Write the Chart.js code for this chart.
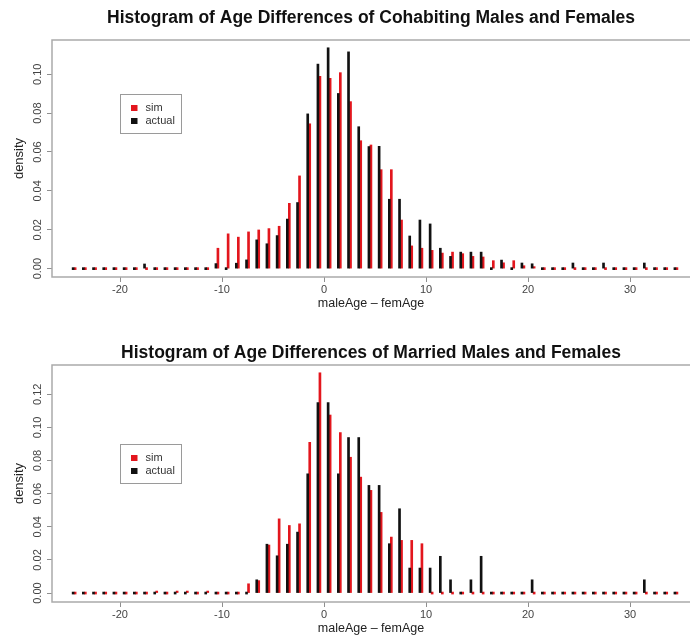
<!DOCTYPE html>
<html>
<head>
<meta charset="utf-8">
<script src="https://cdn.jsdelivr.net/npm/chart.js@4.4.1/dist/chart.umd.min.js"></script>
<style>
  html, body { margin: 0; padding: 0; background: #ffffff; overflow: hidden; width: 690px; height: 636px; }
  #p1 { position: absolute; left: 0; top: 0; }
  #p2 { position: absolute; left: 0; top: 318px; }
</style>
</head>
<body>
<canvas id="p1" width="690" height="318"></canvas>
<canvas id="p2" width="690" height="325"></canvas>
<script>
// ---- data ----
const ageMid = [
  -24.5, -23.5, -22.5, -21.5, -20.5, -19.5, -18.5, -17.5, -16.5, -15.5,
  -14.5, -13.5, -12.5, -11.5, -10.5, -9.5, -8.5, -7.5, -6.5, -5.5,
  -4.5, -3.5, -2.5, -1.5, -0.5, 0.5, 1.5, 2.5, 3.5, 4.5,
  5.5, 6.5, 7.5, 8.5, 9.5, 10.5, 11.5, 12.5, 13.5, 14.5,
  15.5, 16.5, 17.5, 18.5, 19.5, 20.5, 21.5, 22.5, 23.5, 24.5,
  25.5, 26.5, 27.5, 28.5, 29.5, 30.5, 31.5, 32.5, 33.5, 34.5
];

const cohabSim = [
  0, 0, 0, 0, 0, 0, 0, 0, 0, 0,
  0, 0, 0, 0, 0.0105, 0.0179, 0.0162, 0.0189, 0.0199, 0.0206,
  0.0218, 0.0336, 0.0477, 0.0745, 0.0989, 0.0979, 0.1008, 0.0859, 0.0658, 0.0636,
  0.0509, 0.0509, 0.0250, 0.0117, 0.0105, 0.0094, 0.0080, 0.0085, 0.0077, 0.0063,
  0.0060, 0.0041, 0.0030, 0.0041, 0.0015, 0.0010, 0, 0, 0, 0,
  0, 0, 0, 0, 0, 0, 0, 0, 0, 0
];

const cohabActual = [
  0, 0, 0, 0, 0, 0, 0, 0.0024, 0, 0,
  0, 0, 0, 0, 0.0026, 0, 0.0028, 0.0045, 0.0148, 0.0128,
  0.0170, 0.0255, 0.0340, 0.0796, 0.1052, 0.1136, 0.0901, 0.1115, 0.0730, 0.0628,
  0.0629, 0.0357, 0.0357, 0.0168, 0.0250, 0.0230, 0.0105, 0.0063, 0.0085, 0.0085,
  0.0085, 0, 0.0044, 0, 0.0029, 0.0025, 0, 0, 0, 0.0029,
  0, 0, 0.0029, 0, 0, 0, 0.0029, 0, 0, 0
];

const marriedSim = [
  0, 0, 0, 0, 0, 0, 0, 0, 0.0012, 0,
  0.0012, 0.0010, 0, 0.0012, 0, 0, 0, 0.0056, 0.0075, 0.0290,
  0.0448, 0.0408, 0.0418, 0.0910, 0.1330, 0.1075, 0.0969, 0.0820, 0.0700, 0.0620,
  0.0487, 0.0338, 0.0318, 0.0318, 0.0298, 0, 0, 0, 0, 0,
  0, 0, 0, 0, 0, 0, 0, 0, 0, 0,
  0, 0, 0, 0, 0, 0, 0, 0, 0, 0
];

const marriedActual = [
  0, 0, 0, 0, 0, 0, 0, 0, 0, 0,
  0, 0, 0, 0, 0, 0, 0, 0, 0.0080, 0.0295,
  0.0225, 0.0295, 0.0368, 0.0720, 0.1150, 0.1150, 0.0720, 0.0939, 0.0939, 0.0650,
  0.0650, 0.0298, 0.0509, 0.0151, 0.0151, 0.0151, 0.0222, 0.0080, 0, 0.0080,
  0.0222, 0, 0, 0, 0, 0.0080, 0, 0, 0, 0,
  0, 0, 0, 0, 0, 0, 0.0080, 0, 0, 0
];

const xTicks = [-20, -10, 0, 10, 20, 30];
const cohabYTicks = [0, 0.02, 0.04, 0.06, 0.08, 0.10];
const marriedYTicks = [0, 0.02, 0.04, 0.06, 0.08, 0.10, 0.12];

const seriesNames = ['sim', 'actual'];
const cohabTitle = 'Histogram of Age Differences of Cohabiting Males and Females';
const marriedTitle = 'Histogram of Age Differences of Married Males and Females';
const xLabel = 'maleAge \u2013 femAge';
const yLabel = 'density';
const legendAnchor = { x: -20, y: 0.09 };

// ---- styling ----
const FONT = '"Liberation Sans", Arial, Helvetica, sans-serif';
const RED = '#e3161d';
const BLACK = '#111111';
const FRAME = '#ababab';
const seriesColors = { sim: RED, actual: BLACK };

const frameLegendPlugin = {
  id: 'frameLegend',
  afterDraw(chart) {
    const { ctx, chartArea } = chart;
    const { left, top, right, bottom } = chartArea;
    ctx.save();
    ctx.strokeStyle = FRAME;
    ctx.lineWidth = 1.5;
    ctx.beginPath();
    ctx.moveTo(right + 5, top);
    ctx.lineTo(left, top);
    ctx.lineTo(left, bottom);
    ctx.lineTo(right + 5, bottom);
    ctx.stroke();

    // legend anchored in data coordinates (top-left corner)
    const xs = chart.scales.x, ys = chart.scales.y;
    const lx = Math.round(xs.getPixelForValue(legendAnchor.x)) + 0.5;
    const ly = Math.round(ys.getPixelForValue(legendAnchor.y)) + 0.5;
    const w = 61, h = 39;
    ctx.fillStyle = '#ffffff';
    ctx.fillRect(lx, ly, w, h);
    ctx.strokeStyle = '#9a9a9a';
    ctx.lineWidth = 1;
    ctx.strokeRect(lx, ly, w, h);
    ctx.font = '11px ' + FONT;
    ctx.textBaseline = 'middle';
    ctx.textAlign = 'left';
    seriesNames.forEach((name, i) => {
      const cy = ly + 13.5 + i * 13;
      ctx.fillStyle = seriesColors[name];
      ctx.fillRect(lx + 10.5, cy - 3, 6.5, 6);
      ctx.fillStyle = '#333';
      ctx.fillText(name, lx + 25, cy);
    });
    ctx.restore();
  }
};

function makePanel(canvasId, title, simVals, actVals, yTicks, yMin, yMax, titlePad) {
  const simData = ageMid.map((x, i) => ({ x: x, y: simVals[i] }));
  const actData = ageMid.map((x, i) => ({ x: x, y: actVals[i] }));
  return new Chart(document.getElementById(canvasId), {
    type: 'bar',
    data: {
      datasets: [
        { label: seriesNames[1], data: actData, backgroundColor: BLACK },
        { label: seriesNames[0], data: simData, backgroundColor: RED }
      ]
    },
    options: {
      responsive: false,
      animation: false,
      devicePixelRatio: 1,
      layout: { padding: 0 },
      datasets: {
        bar: { barThickness: 2, minBarLength: 2, grouped: true, borderWidth: 0 }
      },
      plugins: {
        legend: { display: false },
        tooltip: { enabled: false },
        title: {
          display: true,
          text: title,
          fullSize: false,
          color: '#111',
          font: { family: FONT, size: 17.5, weight: 'bold', lineHeight: 1.2 },
          padding: titlePad
        }
      },
      scales: {
        x: {
          type: 'linear',
          min: -26.67,
          max: 35.88,
          offset: false,
          afterBuildTicks: (s) => { s.ticks = xTicks.map(v => ({ value: v })); },
          afterFit: (s) => { s.height = 41; },
          border: { display: false },
          grid: { display: true, drawOnChartArea: false, drawTicks: true, tickLength: 5, color: '#8f8f8f', offset: false },
          ticks: {
            autoSkip: false, maxRotation: 0, minRotation: 0, padding: 1,
            color: '#444', font: { family: FONT, size: 11 },
            callback: (v) => String(v)
          },
          title: {
            display: true, text: xLabel, color: '#222',
            font: { family: FONT, size: 12.5, lineHeight: 1.2 },
            padding: { top: 0, bottom: 7 }
          }
        },
        y: {
          min: yMin,
          max: yMax,
          afterBuildTicks: (s) => { s.ticks = yTicks.map(v => ({ value: v })); },
          afterFit: (s) => { s.width = 52; },
          border: { display: false },
          grid: { display: true, drawOnChartArea: false, drawTicks: true, tickLength: 5, color: '#8f8f8f' },
          ticks: {
            minRotation: 90, maxRotation: 90, crossAlign: 'center', padding: -2,
            color: '#444', font: { family: FONT, size: 11 },
            callback: (v) => Number(v).toFixed(2)
          },
          title: {
            display: true, text: yLabel, color: '#222',
            font: { family: FONT, size: 13, lineHeight: 1.2 },
            padding: { top: 12, bottom: 0 }
          }
        }
      }
    },
    plugins: [frameLegendPlugin]
  });
}

makePanel('p1', cohabTitle, cohabSim, cohabActual, cohabYTicks, -0.0043, 0.1176, { top: 7.5, bottom: 11.5 });
makePanel('p2', marriedTitle, marriedSim, marriedActual, marriedYTicks, -0.0054, 0.1377, { top: 24.5, bottom: 1.5 });
</script>
</body>
</html>
